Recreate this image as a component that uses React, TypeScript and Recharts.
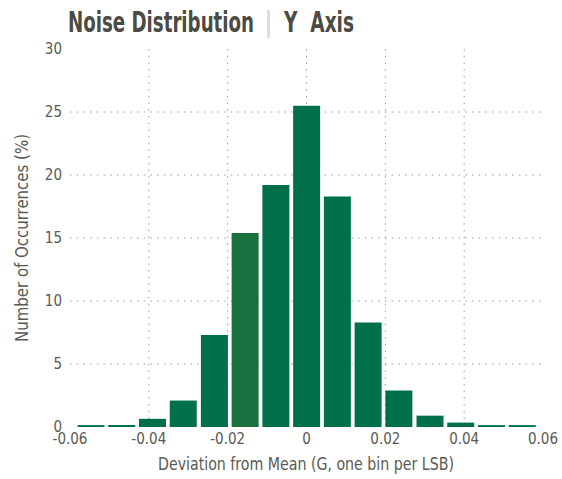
import { Bar, BarChart, CartesianGrid, Cell, XAxis, YAxis } from 'recharts'

// bin centres, one LSB (~0.0078 G) apart
const binCenters = [
  -0.0547, -0.0469, -0.0391, -0.0313, -0.0234, -0.0156, -0.0078, 0, 0.0078, 0.0156, 0.0234,
  0.0313, 0.0391, 0.0469, 0.0547,
]
const occurrences = [0.15, 0.15, 0.65, 2.1, 7.3, 15.4, 19.2, 25.5, 18.3, 8.3, 2.9, 0.9, 0.35, 0.15, 0.15]
const highlightedBin = 5

const xTicks = [-0.06, -0.04, -0.02, 0, 0.02, 0.04, 0.06]
const xGrid = [-0.04, -0.02, 0, 0.02, 0.04]
const yTicks = [0, 5, 10, 15, 20, 25, 30]
const yGrid = [5, 10, 15, 20, 25]

const BAR = '#00704A'
const BAR_HI = '#17723F'
const TEXT = '#5a5a52'
const FONT = "'Liberation Sans Narrow', 'DejaVu Sans Condensed', sans-serif"

const data = binCenters.map((c, i) => ({ center: c, value: occurrences[i] }))

const fmt = (v: number) => (v === 0 ? '0' : v.toFixed(2))

export default function App() {
  return (
    <div style={{ position: 'absolute', left: 0, top: 0, width: 562, height: 479, background: '#fff' }}>
      <BarChart
        width={562}
        height={479}
        data={data}
        margin={{ top: 49, right: 19, left: 0, bottom: 0 }}
      >
        <CartesianGrid
          stroke="#9a9a9a"
          strokeDasharray="1.5 5.2"
          horizontalValues={yGrid}
          verticalValues={xGrid}
        />
        <XAxis
          type="number"
          dataKey="center"
          domain={[-0.06, 0.06]}
          ticks={xTicks}
          tickFormatter={fmt}
          axisLine={false}
          tickLine={false}
          tickSize={4}
          tickMargin={2}
          height={52}
          tick={{ fontSize: 15, fill: TEXT, fontFamily: FONT }}
        />
        <YAxis
          type="number"
          domain={[0, 30]}
          ticks={yTicks}
          axisLine={false}
          tickLine={false}
          width={70}
          tickSize={6}
          tickMargin={2}
          tick={{ fontSize: 15, fill: TEXT, fontFamily: FONT }}
        />
        <Bar dataKey="value" barSize={27} isAnimationActive={false}>
          {data.map((_, i) => (
            <Cell key={i} fill={i === highlightedBin ? BAR_HI : BAR} />
          ))}
        </Bar>
      </BarChart>
      <svg
        width={562}
        height={479}
        style={{ position: 'absolute', left: 0, top: 0, pointerEvents: 'none' }}
      >
        <g fontFamily={FONT} fontWeight="bold" fontSize={28} fill="#4b4b43">
          <text x={68} y={31.5} textLength={186} lengthAdjust="spacingAndGlyphs">
            Noise Distribution
          </text>
          <rect x={267} y={10} width={3} height={28} fill="#dcdcdc" />
          <text x={284} y={31.5} textLength={70} lengthAdjust="spacingAndGlyphs" style={{ whiteSpace: 'pre' }}>
            {'Y  Axis'}
          </text>
        </g>
        <text
          x={306}
          y={470}
          textAnchor="middle"
          fontFamily={FONT}
          fontSize={18}
          fill={TEXT}
          textLength={296}
          lengthAdjust="spacingAndGlyphs"
        >
          Deviation from Mean (G, one bin per LSB)
        </text>
        <text
          transform="translate(28,238) rotate(-90)"
          textAnchor="middle"
          fontFamily={FONT}
          fontSize={18}
          fill={TEXT}
          textLength={208}
          lengthAdjust="spacingAndGlyphs"
        >
          Number of Occurrences (%)
        </text>
      </svg>
    </div>
  )
}
